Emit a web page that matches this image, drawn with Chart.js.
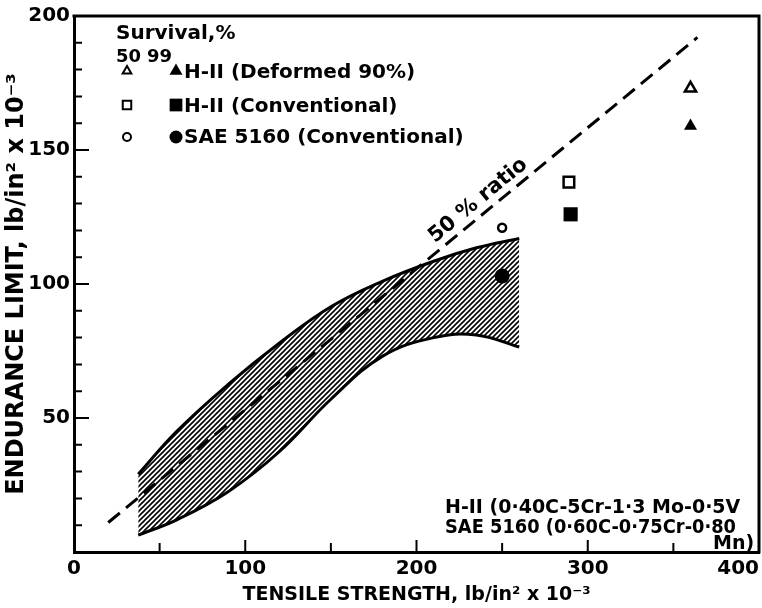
<!DOCTYPE html>
<html>
<head>
<meta charset="utf-8">
<script src="https://cdn.jsdelivr.net/npm/chart.js@4.4.1/dist/chart.umd.min.js"></script>
<style>
  html, body { margin: 0; padding: 0; background: #fff; }
  #wrap { width: 762px; height: 608px; }
</style>
</head>
<body>
<div id="wrap"><canvas id="chart" width="762" height="608"></canvas></div>
<script>
// scatter band (hatched region)
const bandX     = [37.5, 60, 90, 120, 150, 180, 210, 235, 260];
const bandUpper = [29, 45, 62.5, 78, 91.5, 101, 108.5, 113.5, 117];
const bandLower = [6.3, 12, 22.5, 37.5, 57, 73, 80, 81, 76.5];

// "50% ratio" line
const ratioX = [20, 364];
const ratioY = [11, 192];

// test results: 50% and 99% survival
const seriesNames = ['H-II (Deformed 90%)', 'H-II (Conventional)', 'SAE 5160 (Conventional)'];
const tensile50   = [360, 289, 250];
const endurance50 = [173, 138, 121];
const tensile99   = [360, 290, 250];
const endurance99 = [159, 126, 103];

const xTicks = [0, 100, 200, 300, 400];
const yTicks = [50, 100, 150, 200];

const FONT = 'DejaVu Sans';
Chart.defaults.font.family = FONT;
Chart.defaults.font.weight = 'bold';
Chart.defaults.color = '#000';

function hatchPattern() {
  const c = document.createElement('canvas');
  c.width = 5; c.height = 5;
  const g = c.getContext('2d');
  g.strokeStyle = '#000';
  g.lineWidth = 1.6;
  g.beginPath();
  g.moveTo(-1, 6); g.lineTo(6, -1);
  g.moveTo(-1, 1); g.lineTo(1, -1);
  g.moveTo(4, 6); g.lineTo(6, 4);
  g.stroke();
  return g.createPattern(c, 'repeat');
}

const markers = [
  { style: 'triangle', open: { r: 6.5, bw: 2.5 }, full: { r: 7.5 } },
  { style: 'rect',     open: { r: 7.5, bw: 2.5 }, full: { r: 10 } },
  { style: 'circle',   open: { r: 4,   bw: 2.5 }, full: { r: 7.5 } }
];

const pointSets = [];
seriesNames.forEach((name, i) => {
  const m = markers[i];
  pointSets.push({
    label: name + ' 50%',
    data: [{ x: tensile50[i], y: endurance50[i] }],
    pointStyle: m.style, pointRadius: m.open.r, pointBorderWidth: m.open.bw,
    pointBackgroundColor: '#fff', pointBorderColor: '#000'
  });
  pointSets.push({
    label: name + ' 99%',
    data: [{ x: tensile99[i], y: endurance99[i] }],
    pointStyle: m.style, pointRadius: m.full.r, pointBorderWidth: 0,
    pointBackgroundColor: '#000', pointBorderColor: '#000'
  });
});

// inward tick marks + top/right frame
const framePlugin = {
  id: 'frame',
  afterDraw(chart) {
    const { ctx, chartArea: a, scales: { x, y } } = chart;
    ctx.save();
    ctx.strokeStyle = '#000';
    ctx.lineWidth = 3;
    ctx.beginPath();
    ctx.moveTo(a.left - 1.5, a.top); ctx.lineTo(a.right, a.top); ctx.lineTo(a.right, a.bottom + 1.5);
    ctx.stroke();
    ctx.lineWidth = 2;
    ctx.beginPath();
    for (let v = 50; v < 400; v += 50) {
      const px = x.getPixelForValue(v);
      const len = v % 100 === 0 ? 12 : 9;
      ctx.moveTo(px, a.bottom); ctx.lineTo(px, a.bottom - len);
    }
    for (let v = 10; v < 200; v += 10) {
      const py = y.getPixelForValue(v);
      const len = v % 50 === 0 ? 15 : 8;
      ctx.moveTo(a.left, py); ctx.lineTo(a.left + len, py);
    }
    ctx.stroke();
    ctx.restore();
  }
};

// legend, ratio label and composition note
const notesPlugin = {
  id: 'notes',
  afterDraw(chart) {
    const { ctx, scales: { x, y } } = chart;
    const dp = Chart.helpers.drawPoint;
    ctx.save();
    ctx.fillStyle = '#000';
    ctx.strokeStyle = '#000';
    ctx.textBaseline = 'alphabetic';
    ctx.font = 'bold 20px "' + FONT + '"';
    ctx.fillText('Survival,%', 116, 39);
    ctx.font = 'bold 18px "' + FONT + '"';
    ctx.fillText('50', 116, 62);
    ctx.fillText('99', 147, 62);
    ctx.font = 'bold 20px "' + FONT + '"';
    const rowY = [71, 105, 137];
    const baseY = [78, 112, 143];
    markers.forEach((m, i) => {
      ctx.fillStyle = '#fff';
      ctx.lineWidth = 2;
      const openR = [5, 6, 4][i];
      dp(ctx, { pointStyle: m.style, radius: openR, borderWidth: 2, rotation: 0 }, 127, rowY[i]);
      ctx.fillStyle = '#000';
      const fullR = [7.5, 9, 6.5][i];
      dp(ctx, { pointStyle: m.style, radius: fullR, borderWidth: 0, rotation: 0 }, 176, rowY[i]);
      ctx.fillText(seriesNames[i], 184, baseY[i]);
    });

    // ratio label along dashed line
    const x0 = x.getPixelForValue(ratioX[0]), y0 = y.getPixelForValue(ratioY[0]);
    const x1 = x.getPixelForValue(ratioX[1]), y1 = y.getPixelForValue(ratioY[1]);
    const ang = Math.atan2(y1 - y0, x1 - x0);
    const t = (241 - ratioX[0]) / (ratioX[1] - ratioX[0]);
    ctx.save();
    ctx.translate(x0 + t * (x1 - x0), y0 + t * (y1 - y0));
    ctx.rotate(ang);
    ctx.textAlign = 'center';
    ctx.font = 'bold 21px "' + FONT + '"';
    ctx.fillText('50 % ratio', 0, -8);
    ctx.restore();

    ctx.font = 'bold 19px "' + FONT + '"';
    ctx.fillText('H-II (0·40C-5Cr-1·3 Mo-0·5V', 445, 513, 298);
    ctx.fillText('SAE 5160 (0·60C-0·75Cr-0·80', 445, 533, 291);
    ctx.fillText('Mn)', 713, 549);
    ctx.restore();
  }
};

new Chart(document.getElementById('chart'), {
  type: 'scatter',
  data: {
    datasets: [
      {
        label: 'band lower',
        data: bandX.map((v, i) => ({ x: v, y: bandLower[i] })),
        showLine: true, borderColor: '#000', borderWidth: 3, pointRadius: 0,
        tension: 0.4, fill: false
      },
      {
        label: 'band upper',
        data: bandX.map((v, i) => ({ x: v, y: bandUpper[i] })),
        showLine: true, borderColor: '#000', borderWidth: 3, pointRadius: 0,
        tension: 0.4, fill: '-1', backgroundColor: hatchPattern()
      },
      {
        label: '50% ratio',
        data: ratioX.map((v, i) => ({ x: v, y: ratioY[i] })),
        showLine: true, borderColor: '#000', borderWidth: 3, borderDash: [15, 8],
        pointRadius: 0, fill: false
      },
      ...pointSets
    ]
  },
  options: {
    responsive: false,
    animation: false,
    devicePixelRatio: 1,
    layout: { autoPadding: false, padding: { top: 16, right: 3, left: 0, bottom: 0 } },
    plugins: { legend: { display: false }, tooltip: { enabled: false } },
    scales: {
      x: {
        type: 'linear', min: 0, max: 400,
        afterBuildTicks: s => { s.ticks = xTicks.map(v => ({ value: v })); },
        afterFit: s => { s.height = 56; s.paddingLeft = 0; s.paddingRight = 0; },
        grid: { display: false, drawTicks: false },
        border: { display: true, color: '#000', width: 3 },
        ticks: {
          padding: 5, maxRotation: 0, autoSkip: false,
          font: { size: 20, weight: 'bold' },
          callback: v => v === 400 ? '400\u2007\u2007\u2007' : String(v)
        },
        title: {
          display: true, text: 'TENSILE STRENGTH, lb/in² x 10⁻³',
          font: { size: 19, weight: 'bold' }, padding: { top: 0, bottom: 2 }
        }
      },
      y: {
        type: 'linear', min: 0, max: 200,
        afterBuildTicks: s => { s.ticks = yTicks.map(v => ({ value: v })); },
        afterFit: s => { s.width = 74; s.paddingTop = 0; s.paddingBottom = 0; },
        grid: { display: false, drawTicks: false },
        border: { display: true, color: '#000', width: 3 },
        ticks: { padding: 4, font: { size: 20, weight: 'bold' } },
        title: {
          display: true, text: 'ENDURANCE LIMIT, lb/in² x 10⁻³',
          font: { size: 24, weight: 'bold' }, padding: { top: 2, bottom: 0 }
        }
      }
    }
  },
  plugins: [framePlugin, notesPlugin]
});
</script>
</body>
</html>
